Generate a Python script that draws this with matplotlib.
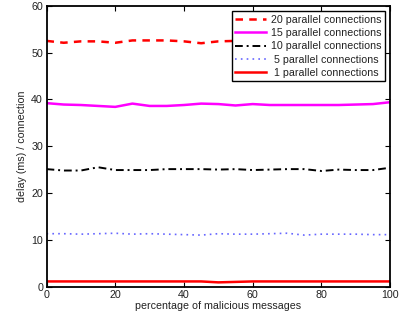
import matplotlib
matplotlib.use("Agg")
import matplotlib.pyplot as plt

plt.rcParams["font.family"] = ["Liberation Sans", "DejaVu Sans"]

pct = [0, 5, 10, 15, 20, 25, 30, 35, 40, 45, 50,
       55, 60, 65, 70, 75, 80, 85, 90, 95, 100]

conn20 = [52.5, 52.1, 52.4, 52.4, 52.1, 52.6, 52.6, 52.6, 52.4, 52.0, 52.4,
          52.5, 52.5, 52.6, 52.4, 52.5, 52.6, 52.5, 52.7, 53.0, 53.8]
conn15 = [39.2, 38.9, 38.8, 38.6, 38.4, 39.1, 38.6, 38.6, 38.8, 39.1, 39.0,
          38.7, 39.0, 38.8, 38.8, 38.8, 38.8, 38.8, 38.9, 39.0, 39.4]
conn10 = [25.1, 24.8, 24.8, 25.5, 24.9, 24.9, 24.9, 25.1, 25.1, 25.1, 25.0,
          25.1, 24.9, 25.0, 25.1, 25.1, 24.7, 25.0, 24.9, 24.9, 25.4]
conn5 = [11.3, 11.3, 11.2, 11.3, 11.4, 11.2, 11.3, 11.2, 11.1, 11.0, 11.3,
         11.2, 11.2, 11.3, 11.4, 11.0, 11.2, 11.2, 11.2, 11.1, 11.1]
conn1 = [1.1, 1.1, 1.1, 1.1, 1.1, 1.1, 1.1, 1.1, 1.1, 1.1, 0.9,
         1.0, 1.1, 1.1, 1.1, 1.1, 1.1, 1.1, 1.1, 1.1, 1.1]

fig = plt.figure(figsize=(4.01, 3.22), dpi=100, facecolor="white")
ax = fig.add_axes([0.116, 0.110, 0.857, 0.872])

ax.plot(pct, conn20, color="#ff0000", linestyle=(0, (3, 2.5)), linewidth=1.8,
        label="20 parallel connections")
ax.plot(pct, conn15, color="#ff00ff", linestyle="-", linewidth=1.8,
        label="15 parallel connections")
ax.plot(pct, conn10, color="black", linestyle=(0, (4, 2, 1, 2)), linewidth=1.4,
        label="10 parallel connections")
ax.plot(pct, conn5, color="#6666ff", linestyle=(0, (1, 2.5)), linewidth=1.2,
        label=" 5 parallel connections")
ax.plot(pct, conn1, color="#ff0000", linestyle="-", linewidth=1.8,
        label=" 1 parallel connections")

ax.set_xlim(0, 100)
ax.set_ylim(0, 60)
ax.set_xticks([0, 20, 40, 60, 80, 100])
ax.set_yticks([0, 10, 20, 30, 40, 50, 60])
ax.tick_params(direction="in", top=True, right=True, length=3.5, width=0.8,
               labelsize=7.7, colors="black", labelcolor="#222222", pad=2.5)
for sp in ax.spines.values():
    sp.set_linewidth(1.3)

ax.set_xlabel("percentage of malicious messages", fontsize=7.7, color="#222222", labelpad=1)
ax.set_ylabel("delay (ms) / connection", fontsize=7.7, color="#222222", labelpad=3)

leg = ax.legend(loc="upper right", fontsize=7.7, frameon=True, fancybox=False,
                framealpha=1.0, handlelength=2.9, handletextpad=0.4,
                borderpad=0.35, labelspacing=0.3, borderaxespad=0.5)
leg.get_frame().set_edgecolor("black")
leg.get_frame().set_linewidth(1.0)
for t in leg.get_texts():
    t.set_color("#222222")

fig.savefig("out.png", dpi=100)
